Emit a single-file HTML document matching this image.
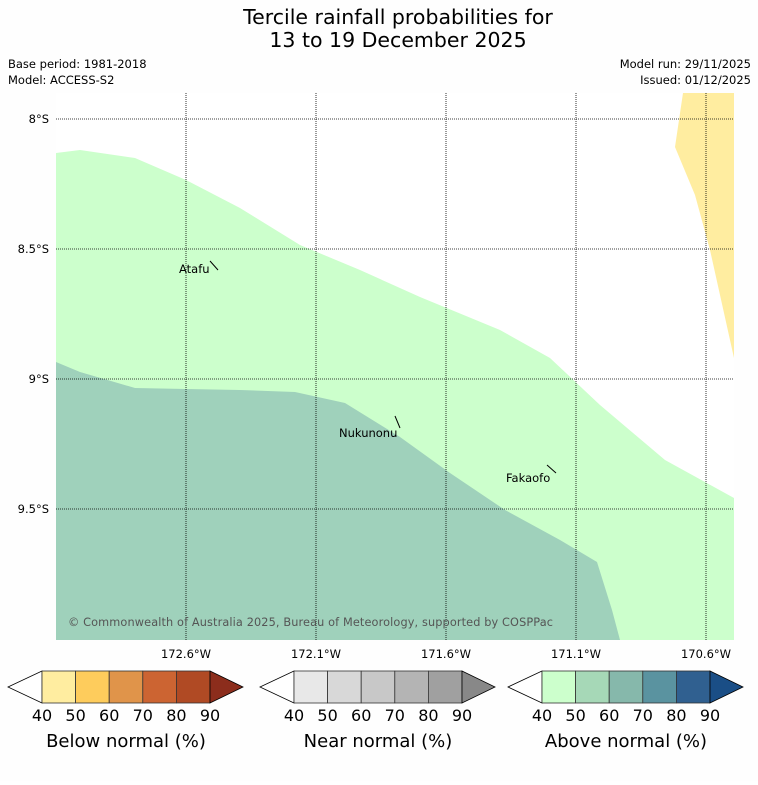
<!DOCTYPE html>
<html><head><meta charset="utf-8"><style>
body{margin:0;background:#fff;font-family:"DejaVu Sans","Liberation Sans",sans-serif;}
svg text{font-family:"DejaVu Sans","Liberation Sans",sans-serif;}
</style></head><body>
<svg width="758" height="781" viewBox="0 0 758 781">
<rect width="758" height="781" fill="#fefefe"/>
<text x="398" y="24" font-size="20.5" text-anchor="middle">Tercile rainfall probabilities for</text>
<text x="398" y="47" font-size="20.5" text-anchor="middle">13 to 19 December 2025</text>
<text x="8" y="68" font-size="11.5">Base period: 1981-2018</text>
<text x="8" y="84" font-size="11.5">Model: ACCESS-S2</text>
<text x="751" y="68" font-size="11.5" text-anchor="end">Model run: 29/11/2025</text>
<text x="751" y="84" font-size="11.5" text-anchor="end">Issued: 01/12/2025</text>
<g id="map">
<rect x="56" y="93" width="678" height="547" fill="#fff"/>
<polygon fill="#ccffcc" points="56,153 80,150 135,158 186,180 240,208 300,245 360,270 420,297 500,330 550,358 600,405 665,460 734,498 734,640 56,640"/>
<polygon fill="#9fd1bb" points="56,362 80,372 135,388 186,389 240,390 295,392 345,403 400,437 450,473 505,510 560,540 597,562 612,610 620,640 56,640"/>
<polygon fill="#ffeda0" points="683,93 734,93 734,358 710,250 695,195 675,147"/>
<g id="grid"></g>
<text x="68" y="626" font-size="11.3" fill="#555" textLength="485">© Commonwealth of Australia 2025, Bureau of Meteorology, supported by COSPPac</text>
<text x="179" y="273" font-size="11.5">Atafu</text>
<line x1="210" y1="261" x2="218" y2="270" stroke="#000"/>
<text x="339" y="437" font-size="11.5">Nukunonu</text>
<line x1="395" y1="416" x2="400" y2="428" stroke="#000"/>
<text x="506" y="482" font-size="11.5">Fakaofo</text>
<line x1="547" y1="465" x2="556" y2="473" stroke="#000"/>
</g>
<g id="bars"></g>
</svg>
<script>
const latTicks=[8,8.5,9,9.5];
const lonTicks=[172.6,172.1,171.6,171.1,170.6];
const cbTicks=[40,50,60,70,80,90];
const cbTitles=["Below normal (%)","Near normal (%)","Above normal (%)"];
const belowColors=["#ffeda0","#fecc5c","#e0944a","#cc6432","#b04a24","#8c2d1c"];
const nearColors=["#e8e8e8","#d8d8d8","#c8c8c8","#b4b4b4","#a0a0a0","#888888"];
const aboveColors=["#ccffcc","#a6d8b7","#86b8ab","#5a93a0","#306090","#1a4e86"];
const NS="http://www.w3.org/2000/svg";
const yOf=lat=>119+(lat-8)*260, xOf=lon=>186+(172.6-lon)*260;
function mk(t,a,p){const e=document.createElementNS(NS,t);for(const k in a)e.setAttribute(k,a[k]);p.appendChild(e);return e;}
const grid=document.getElementById('grid');
latTicks.forEach(v=>{const y=yOf(v);
 const l=mk('line',{x1:56,x2:734,y1:y,y2:y,stroke:'#000','stroke-width':0.8,'stroke-dasharray':'1,1'},grid);
 
 
 const t=mk('text',{x:49,y:y+4,'font-size':11.5,'text-anchor':'end'},grid);t.textContent=v+'°S';
 
 
});
lonTicks.forEach(v=>{const x=xOf(v);
 const l=mk('line',{x1:x,x2:x,y1:93,y2:640,stroke:'#000','stroke-width':0.8,'stroke-dasharray':'1,1'},grid);
 
 
 const t=mk('text',{x:x,y:658,'font-size':11.5,'text-anchor':'middle'},grid);t.textContent=v+'°W';
 
 
});
const bars=document.getElementById('bars');
const sets=[belowColors,nearColors,aboveColors], starts=[8,260,508];
sets.forEach((cols,i)=>{
 const x0=starts[i], bx=x0+34, w=168/5, top=671, bot=703, mid=687;
 const g=mk('g',{},bars);
 
 
 mk('polygon',{points:`${x0},${mid} ${bx},${top} ${bx},${bot}`,fill:'#fff',stroke:'#000','stroke-width':0.8},g);
 for(let k=0;k<5;k++){mk('rect',{x:bx+k*w,y:top,width:w,height:bot-top,fill:cols[k],stroke:'#333','stroke-width':0.8},g);}
 const ex=bx+168;
 mk('polygon',{points:`${ex},${top} ${ex+33},${mid} ${ex},${bot}`,fill:cols[5],stroke:'#000','stroke-width':0.8},g);
 cbTicks.forEach((t,k)=>{const tx=mk('text',{x:bx+k*w,y:721,'font-size':16,'text-anchor':'middle'},g);tx.textContent=t;});
 const tt=mk('text',{x:bx+84,y:747,'font-size':18,'text-anchor':'middle'},g);tt.textContent=cbTitles[i];
});
</script>
</body></html>
